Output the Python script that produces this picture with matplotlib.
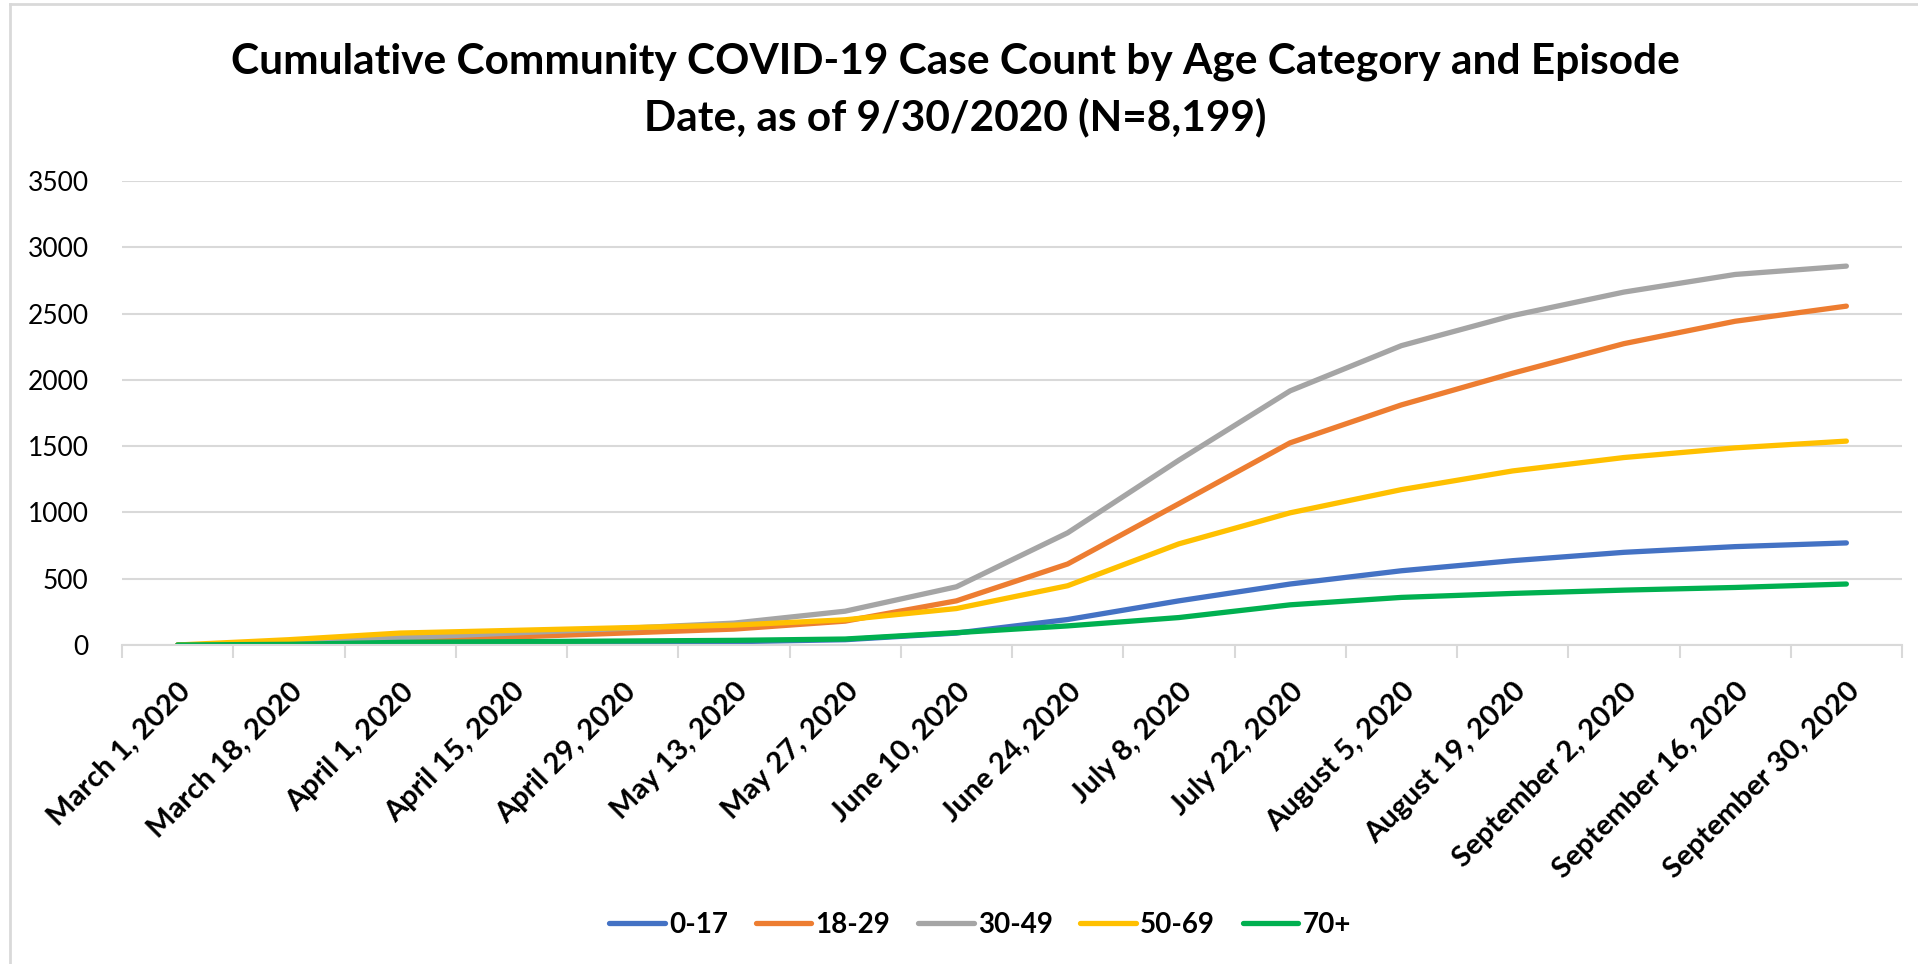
import matplotlib.pyplot as plt
import numpy as np

# categories (x axis)
dates = ["March 1, 2020", "March 18, 2020", "April 1, 2020", "April 15, 2020",
         "April 29, 2020", "May 13, 2020", "May 27, 2020", "June 10, 2020",
         "June 24, 2020", "July 8, 2020", "July 22, 2020", "August 5, 2020",
         "August 19, 2020", "September 2, 2020", "September 16, 2020",
         "September 30, 2020"]

# cumulative counts per age group
age_0_17 = [0, 2, 8, 12, 18, 25, 40, 90, 192, 333, 460, 560, 636, 699, 742, 770]
age_18_29 = [0, 10, 40, 60, 90, 120, 180, 333, 611, 1066, 1525, 1811, 2050, 2273, 2442, 2556]
age_30_49 = [0, 10, 55, 90, 125, 165, 255, 439, 846, 1394, 1917, 2258, 2485, 2662, 2795, 2858]
age_50_69 = [0, 40, 90, 110, 130, 150, 190, 275, 447, 763, 997, 1172, 1313, 1414, 1487, 1538]
age_70_plus = [0, 5, 20, 25, 30, 35, 45, 93, 144, 207, 303, 359, 389, 414, 434, 460]

labels = ["0-17", "18-29", "30-49", "50-69", "70+"]
colors = ["#4472C4", "#ED7D31", "#A5A5A5", "#FFC000", "#00B050"]
series = [age_0_17, age_18_29, age_30_49, age_50_69, age_70_plus]

plt.rcParams['font.family'] = ['Lato', 'DejaVu Sans']

fig = plt.figure(figsize=(19.18, 9.64), dpi=100)
ax = fig.add_axes([122 / 1918, 1 - 645 / 964, (1902 - 122) / 1918, (645 - 181) / 964])

x = np.arange(len(dates))
for vals, lab, col in zip(series, labels, colors):
    ax.plot(x, vals, color=col, lw=3.8, label=lab, solid_capstyle='round')

ax.set_xlim(-0.5, len(dates) - 0.5)
ax.set_ylim(0, 3500)
ax.set_yticks(np.arange(0, 3501, 500))
ax.tick_params(axis='y', length=0, labelsize=19, pad=24)
ax.grid(axis='y', color='#D9D9D9', lw=1.5)
ax.set_axisbelow(True)

ax.set_xticks(x)
ax.set_xticklabels(dates, rotation=45, ha='right', rotation_mode='anchor',
                   fontsize=21, fontweight='bold')
ax.tick_params(axis='x', which='major', length=0, pad=24)
ax.set_xticks(np.arange(-0.5, len(dates)), minor=True)
ax.tick_params(axis='x', which='minor', length=9, width=1.5, color='#D9D9D9')

for s in ['top', 'right', 'left']:
    ax.spines[s].set_visible(False)
ax.spines['bottom'].set_color('#D9D9D9')
ax.spines['bottom'].set_linewidth(1.5)

fig.text(0.498, 1 - 62 / 964, "Cumulative Community COVID-19 Case Count by Age Category and Episode",
         ha='center', va='center', fontsize=30.5, fontweight='bold')
fig.text(0.498, 1 - 117 / 964, "Date, as of 9/30/2020 (N=8,199)",
         ha='center', va='center', fontsize=30.5, fontweight='bold')

fig.legend(loc='center', bbox_to_anchor=(0.511, 1 - 925 / 964), ncol=5, frameon=False,
           handlelength=2.0, columnspacing=1.0, handletextpad=0.15,
           prop={'weight': 'bold', 'size': 20})

# chart frame
fig.add_artist(plt.Line2D([10 / 1918, 10 / 1918], [0, 1 - 4 / 964], color='#D9D9D9', lw=2))
fig.add_artist(plt.Line2D([10 / 1918, 1], [1 - 4 / 964, 1 - 4 / 964], color='#D9D9D9', lw=2))

fig.savefig("out.png", dpi=100)
